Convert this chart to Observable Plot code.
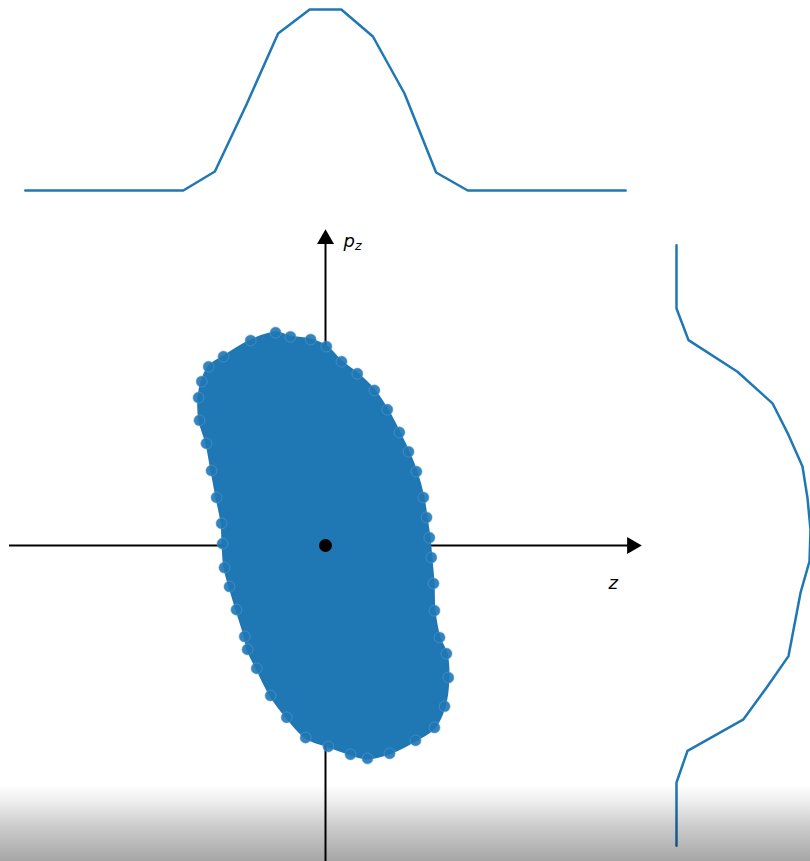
<!DOCTYPE html>
<html>
<head>
<meta charset="utf-8">
<script src="https://cdn.jsdelivr.net/npm/d3@7"></script>
<script src="https://cdn.jsdelivr.net/npm/@observablehq/plot@0.6"></script>
<style>
  html, body { margin: 0; padding: 0; background: #fff; overflow: hidden; }
  #stage { position: relative; width: 810px; height: 861px; }
  #stage svg { position: absolute; left: 0; top: 0; }
  #fade {
    position: absolute; left: 0; top: 784px; width: 810px; height: 77px;
    background: linear-gradient(to bottom, rgba(0,0,0,0) 0%, rgba(0,0,0,0.06) 20%, rgba(0,0,0,0.2) 55%, rgba(0,0,0,0.35) 100%);
    pointer-events: none;
  }
</style>
</head>
<body>
<div id="stage"></div>
<script>
// Histogram of z (top marginal): bin centres and counts
const zBins = [-9.5, -8.5, -7.5, -6.5, -5.5, -4.5, -3.5, -2.5, -1.5, -0.5,
               0.5, 1.5, 2.5, 3.5, 4.5, 5.5, 6.5, 7.5, 8.5, 9.5];
const zCounts = [0, 0, 0, 0, 0, 0, 19, 86, 157, 181, 181, 154, 97, 18, 0, 0, 0, 0, 0, 0];

// Histogram of p_z (right marginal): bin centres and counts
const pBins = [9.5, 8.5, 7.5, 6.5, 5.5, 4.5, 3.5, 2.5, 1.5, 0.5,
               -0.5, -1.5, -2.5, -3.5, -4.5, -5.5, -6.5, -7.5, -8.5, -9.5];
const pCounts = [0, 0, 0, 12, 61, 96, 112, 126, 131, 134, 133, 124, 118, 112, 90, 67, 11, 0, 0, 0];

// Outline of the particle cloud in phase space (z, p_z)
const cloudZ = [-1.58, -2.37, -3.23, -3.70, -3.92, -4.02, -3.99, -3.77, -3.61, -3.45,
                -3.29, -3.26, -3.20, -3.04, -2.82, -2.56, -2.47, -2.18, -1.74, -1.23,
                -0.63, 0.09, 0.79, 1.33, 2.03, 2.85, 3.45, 3.77, 3.89, 3.83,
                3.61, 3.45, 3.42, 3.35, 3.29, 3.20, 3.10, 2.88, 2.63, 2.34,
                1.96, 1.55, 1.01, 0.51, 0.03, -0.47, -1.11];
const cloudP = [6.74, 6.49, 5.98, 5.66, 5.19, 4.68, 3.96, 3.23, 2.37, 1.52,
                0.70, 0.06, -0.70, -1.30, -2.03, -2.88, -3.29, -3.89, -4.75, -5.44,
                -6.08, -6.36, -6.61, -6.74, -6.58, -6.17, -5.76, -5.09, -4.18, -3.42,
                -2.91, -2.06, -1.20, -0.38, 0.25, 0.89, 1.52, 2.34, 2.97, 3.58,
                4.30, 4.91, 5.44, 5.82, 6.30, 6.52, 6.61];

// Reference (centroid) point and axis extent
const centre = [{z: 0, p: 0}];
const axisMin = -10, axisMax = 10;

const W = 810, H = 861;
const blue = "#1f77b4";
const zDomain = [-10.285, 15.348];
const pDomain = [-10.0, 17.247];

const zHist = zBins.map((z, i) => ({z, n: zCounts[i]}));
const pHist = pBins.map((p, i) => ({p, n: pCounts[i]}));
const cloud = cloudZ.map((z, i) => ({z, p: cloudP[i]}));

const clear = {background: "transparent", overflow: "visible"};

// Main phase-space panel
const mainPanel = Plot.plot({
  width: W, height: H,
  margin: 0,
  style: clear,
  x: {domain: zDomain, axis: null},
  y: {domain: pDomain, axis: null},
  marks: [
    Plot.ruleY([0], {x1: axisMin, x2: axisMax - 0.3, stroke: "black", strokeWidth: 2}),
    Plot.ruleX([0], {y1: axisMin - 0.2, y2: axisMax - 0.3, stroke: "black", strokeWidth: 2}),
    Plot.dot([{z: axisMax, p: 0}], {x: "z", y: "p", symbol: "triangle", r: 6.3, rotate: 90, dx: -9.5, fill: "black", stroke: "none"}),
    Plot.dot([{z: 0, p: axisMax}], {x: "z", y: "p", symbol: "triangle", r: 6.3, rotate: 0, dy: 9.5, fill: "black", stroke: "none"}),
    Plot.line(cloud, {x: "z", y: "p", curve: "catmull-rom-closed", fill: blue, stroke: blue, strokeWidth: 2}),
    Plot.dot(cloud, {x: "z", y: "p", r: 5.5, fill: blue, fillOpacity: 0.9, stroke: "#5d9fd6", strokeOpacity: 0.55, strokeWidth: 1}),
    Plot.dot(centre, {x: "z", y: "p", r: 6.5, fill: "black", stroke: "none"}),
    Plot.text([{z: 0, p: axisMax}], {x: "z", y: "p", text: () => "p", dx: 18, dy: 17, textAnchor: "start", lineAnchor: "bottom",
      fontFamily: "DejaVu Sans", fontStyle: "italic", fontSize: 18, fill: "black"}),
    Plot.text([{z: 0, p: axisMax}], {x: "z", y: "p", text: () => "z", dx: 29.5, dy: 20, textAnchor: "start", lineAnchor: "bottom",
      fontFamily: "DejaVu Sans", fontStyle: "italic", fontSize: 12.6, fill: "black"}),
    Plot.text([{z: axisMax, p: 0}], {x: "z", y: "p", text: () => "z", dx: -33, dy: 43, textAnchor: "start", lineAnchor: "bottom",
      fontFamily: "DejaVu Sans", fontStyle: "italic", fontSize: 18, fill: "black"})
  ]
});

// Top marginal: distribution along z
const topPanel = Plot.plot({
  width: W, height: H,
  marginLeft: 0, marginRight: 0, marginTop: 9, marginBottom: H - 190,
  style: clear,
  x: {domain: zDomain, axis: null},
  y: {domain: [0, 181], axis: null},
  marks: [
    Plot.line(zHist, {x: "z", y: "n", stroke: blue, strokeWidth: 2.5})
  ]
});

// Right marginal: distribution along p_z
const rightPanel = Plot.plot({
  width: W, height: H,
  marginLeft: 676, marginRight: 0, marginTop: 0, marginBottom: 0,
  style: clear,
  x: {domain: [0, 134], axis: null},
  y: {domain: pDomain, axis: null},
  marks: [
    Plot.line(pHist, {x: "n", y: "p", stroke: blue, strokeWidth: 2.5})
  ]
});

const stage = document.getElementById("stage");
stage.append(mainPanel, topPanel, rightPanel);
const fade = document.createElement("div");
fade.id = "fade";
stage.append(fade);
</script>
</body>
</html>
